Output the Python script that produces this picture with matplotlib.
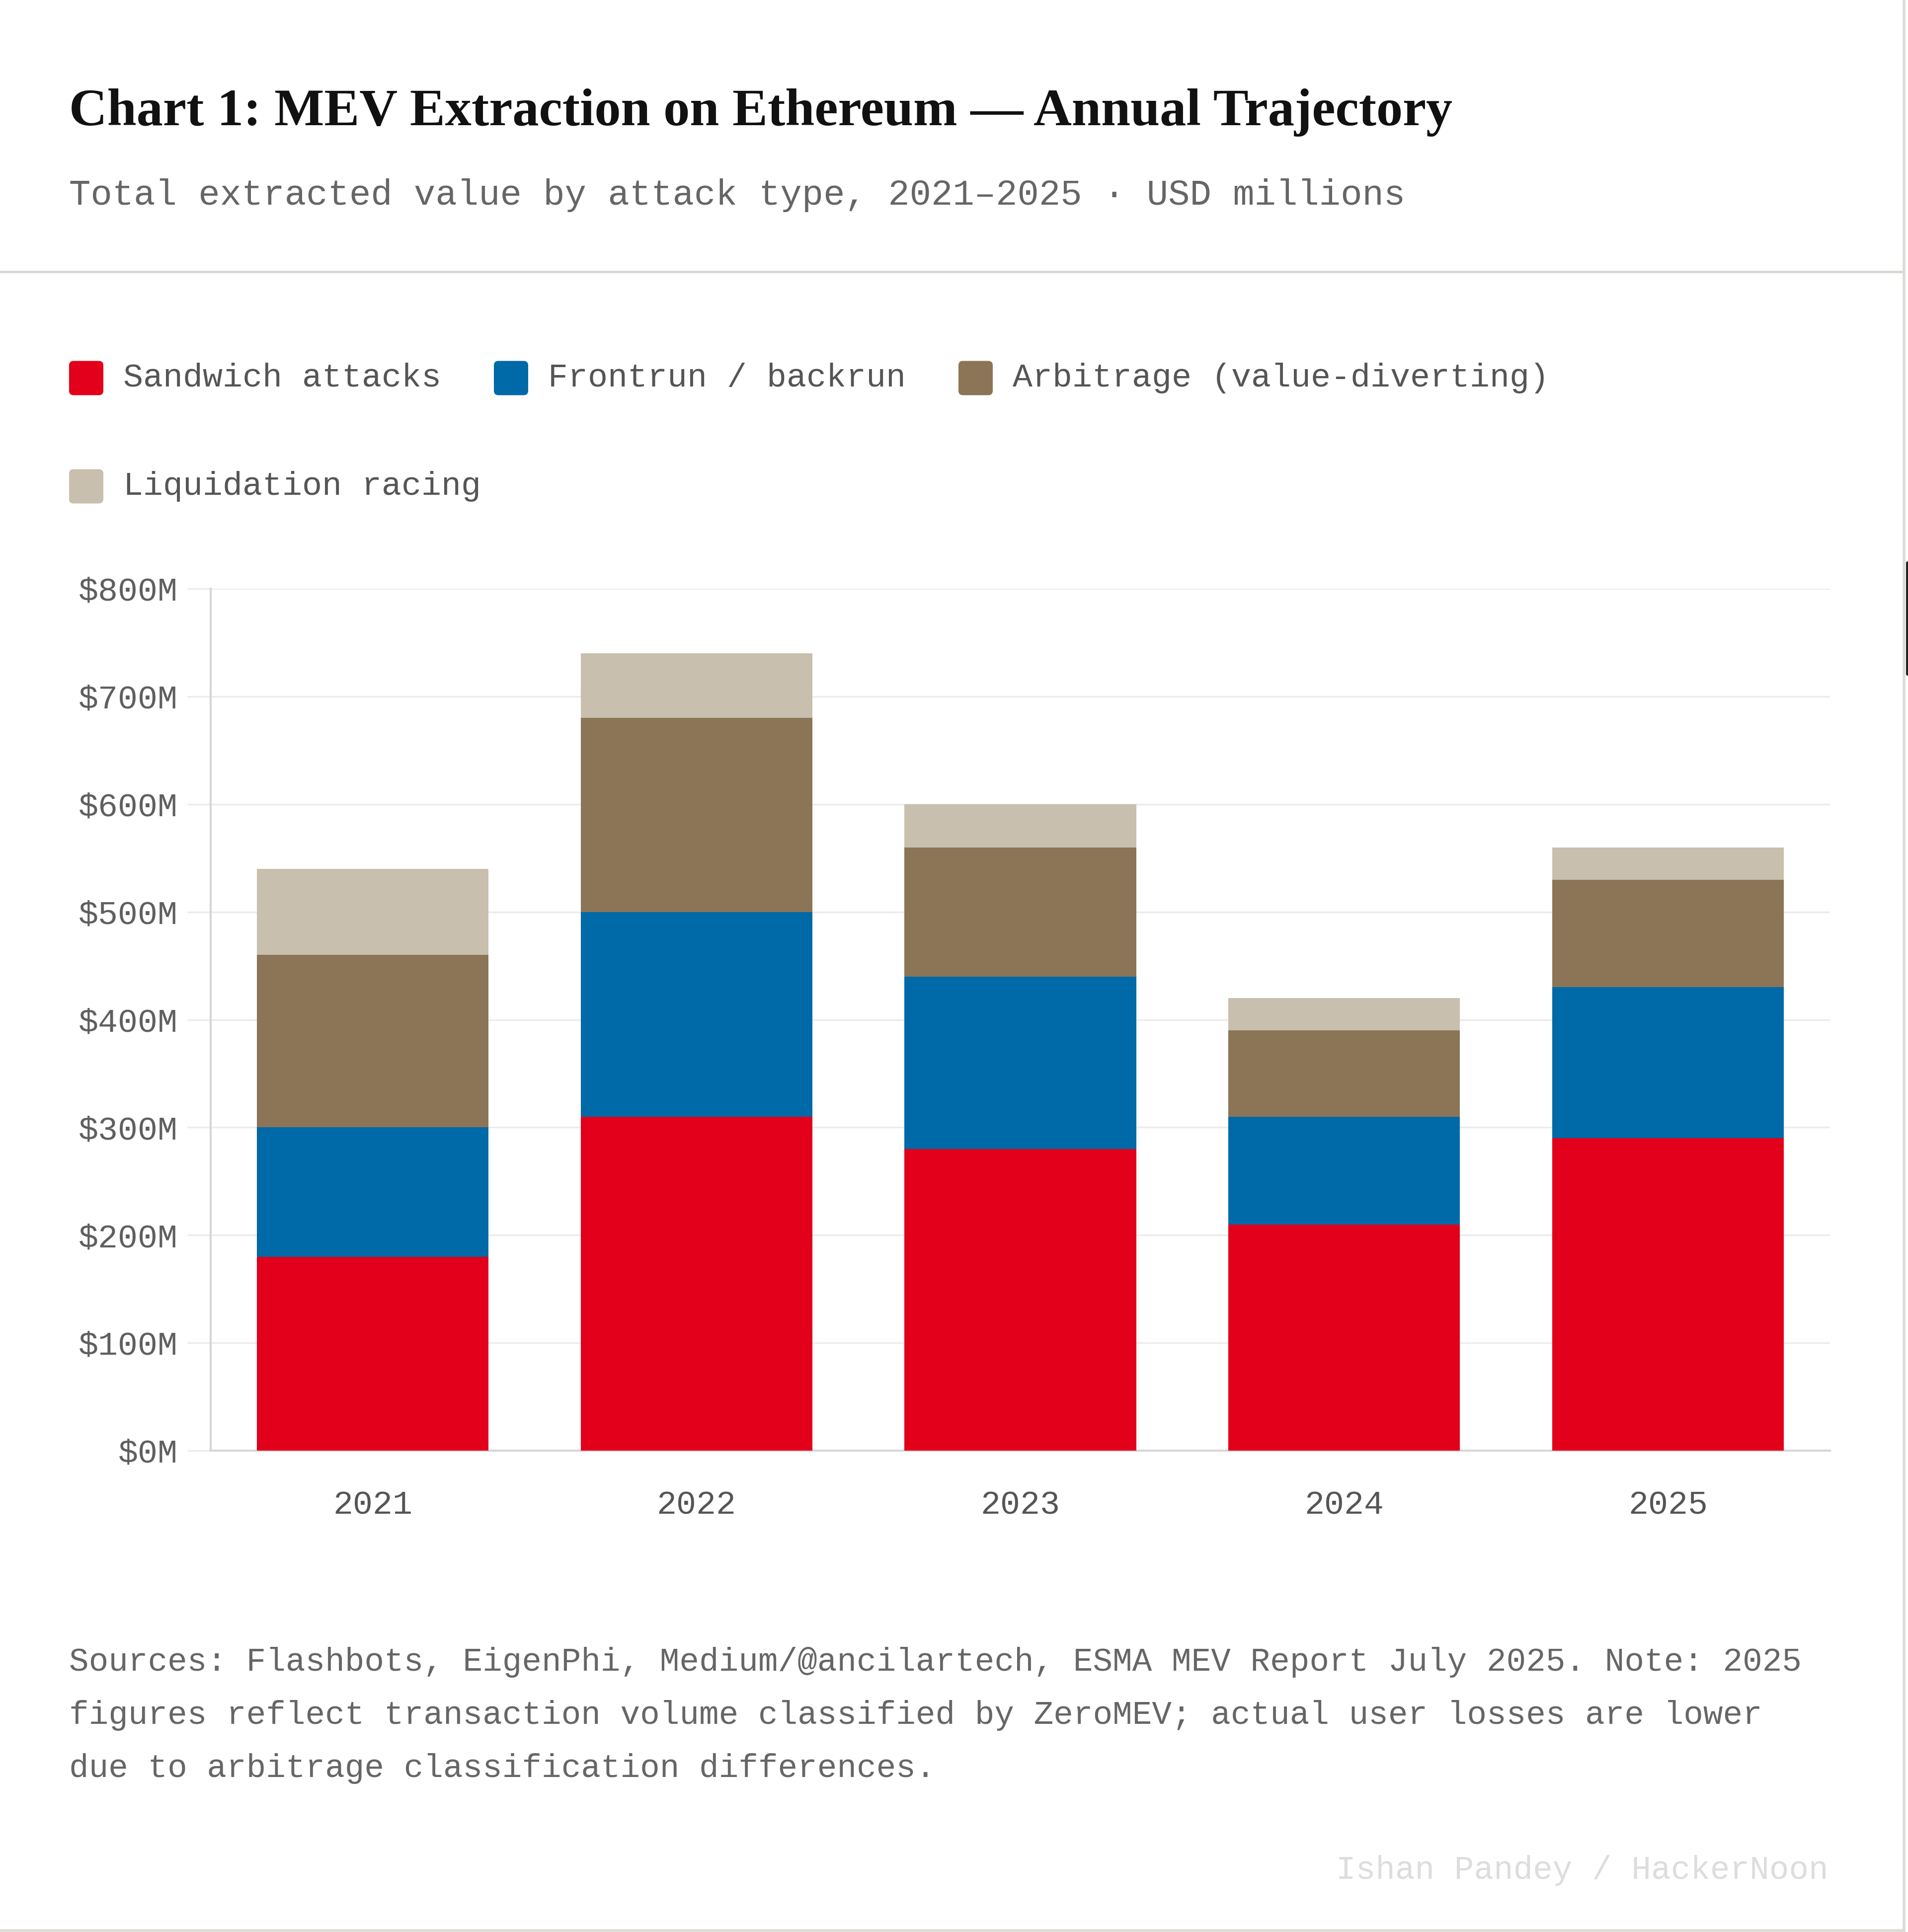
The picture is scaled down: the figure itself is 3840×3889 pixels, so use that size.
import matplotlib
matplotlib.use('Agg')
import matplotlib.pyplot as plt
import matplotlib.transforms as mtransforms
from matplotlib.patches import FancyBboxPatch
from matplotlib.lines import Line2D
from matplotlib.ticker import FuncFormatter, MultipleLocator

# --- data (USD millions) ---
years = ['2021', '2022', '2023', '2024', '2025']
sandwich = [180, 310, 280, 210, 290]
frontrun = [120, 190, 160, 100, 140]
arbitrage = [160, 180, 120, 80, 100]
liquidation = [80, 60, 40, 30, 30]

series_names = ['Sandwich attacks', 'Frontrun / backrun',
                'Arbitrage (value-diverting)', 'Liquidation racing']
series_colors = ['#E2001A', '#0069A7', '#8B7556', '#C8BFAE']

title = 'Chart 1: MEV Extraction on Ethereum \u2014 Annual Trajectory'
subtitle = 'Total extracted value by attack type, 2021\u20132025 \u00b7 USD millions'
footer_lines = [
    'Sources: Flashbots, EigenPhi, Medium/@ancilartech, ESMA MEV Report July 2025. Note: 2025',
    'figures reflect transaction volume classified by ZeroMEV; actual user losses are lower',
    'due to arbitrage classification differences.',
]
credit = 'Ishan Pandey / HackerNoon'

W, H = 3840, 3889
DPI = 100
MONO = 'Liberation Mono'

fig = plt.figure(figsize=(W / DPI, H / DPI), dpi=DPI, facecolor='white')
# pixel coordinates, origin top-left
px = mtransforms.Affine2D().scale(1 / DPI, -1 / DPI).translate(0, H / DPI) + fig.dpi_scale_trans

# --- header ---
fig.text(139, 252, title, transform=px, fontsize=76.5, fontweight='bold',
         family='Liberation Serif', color='#111111', va='baseline')
fig.text(139, 412, subtitle, transform=px, fontsize=52, family=MONO,
         color='#666666', va='baseline')
fig.add_artist(Line2D([0, 3832], [547, 547], transform=px, color='#d9d9d1', lw=3.5))
fig.add_artist(Line2D([3832, 3832], [0, 3886], transform=px, color='#dcdcd4', lw=4))
fig.add_artist(Line2D([0, 3832], [3886, 3886], transform=px, color='#dcdcd4', lw=4))
fig.add_artist(FancyBboxPatch((3836, 1130), 6, 230, transform=px,
                              boxstyle='round,pad=0,rounding_size=3',
                              facecolor='#222222', edgecolor='none'))

# --- legend (rows as in the reference) ---
renderer = fig.canvas.get_renderer()
rows = [[0, 1, 2], [3]]
row_y = [761, 979]
sq = 69
for r, items in enumerate(rows):
    x = 139
    cy = row_y[r]
    for i in items:
        fig.add_artist(FancyBboxPatch((x, cy - sq / 2), sq, sq, transform=px,
                                      boxstyle='round,pad=0,rounding_size=9',
                                      facecolor=series_colors[i], edgecolor='none'))
        t = fig.text(x + 109, cy + 17, series_names[i], transform=px, fontsize=48,
                     family=MONO, color='#555555', va='baseline')
        x = x + 109 + t.get_window_extent(renderer).width + 106

# --- chart ---
ax = fig.add_axes([424 / W, 1 - 2920 / H, (3683 - 424) / W, (2920 - 1185) / H])
xs = range(len(years))
bottom = [0] * len(years)
for vals, name, color in zip([sandwich, frontrun, arbitrage, liquidation],
                             series_names, series_colors):
    ax.bar(xs, vals, width=0.715, bottom=bottom, color=color, label=name,
           edgecolor='none', zorder=3)
    bottom = [b + v for b, v in zip(bottom, vals)]

ax.set_xlim(-0.5, len(years) - 0.5)
ax.set_ylim(0, 800)
ax.yaxis.set_major_locator(MultipleLocator(100))
ax.yaxis.set_major_formatter(FuncFormatter(lambda v, _: f'${v:.0f}M'))
ax.set_xticks(list(xs))
ax.set_xticklabels(years)

ax.yaxis.grid(True, color='#ececec', lw=2.5, zorder=0)
ax.set_axisbelow(True)
for s in ('top', 'right'):
    ax.spines[s].set_visible(False)
for s in ('left', 'bottom'):
    ax.spines[s].set_color('#d6d6d6')
    ax.spines[s].set_linewidth(3)

ax.tick_params(axis='y', length=34, width=2.5, color='#ececec', pad=14,
               labelsize=48, labelcolor='#5f5f5f')
ax.tick_params(axis='x', length=0, pad=57, labelsize=48, labelcolor='#555555')
for lbl in ax.get_xticklabels() + ax.get_yticklabels():
    lbl.set_family(MONO)

# --- footer ---
for k, line in enumerate(footer_lines):
    fig.text(139, 3363 + k * 107, line, transform=px, fontsize=47.5,
             family=MONO, color='#666666', va='baseline')
fig.text(3680, 3782, credit, transform=px, fontsize=47.5, family=MONO,
         color='#dddddd', va='baseline', ha='right')

fig.savefig('out.png', dpi=DPI, facecolor='white')
